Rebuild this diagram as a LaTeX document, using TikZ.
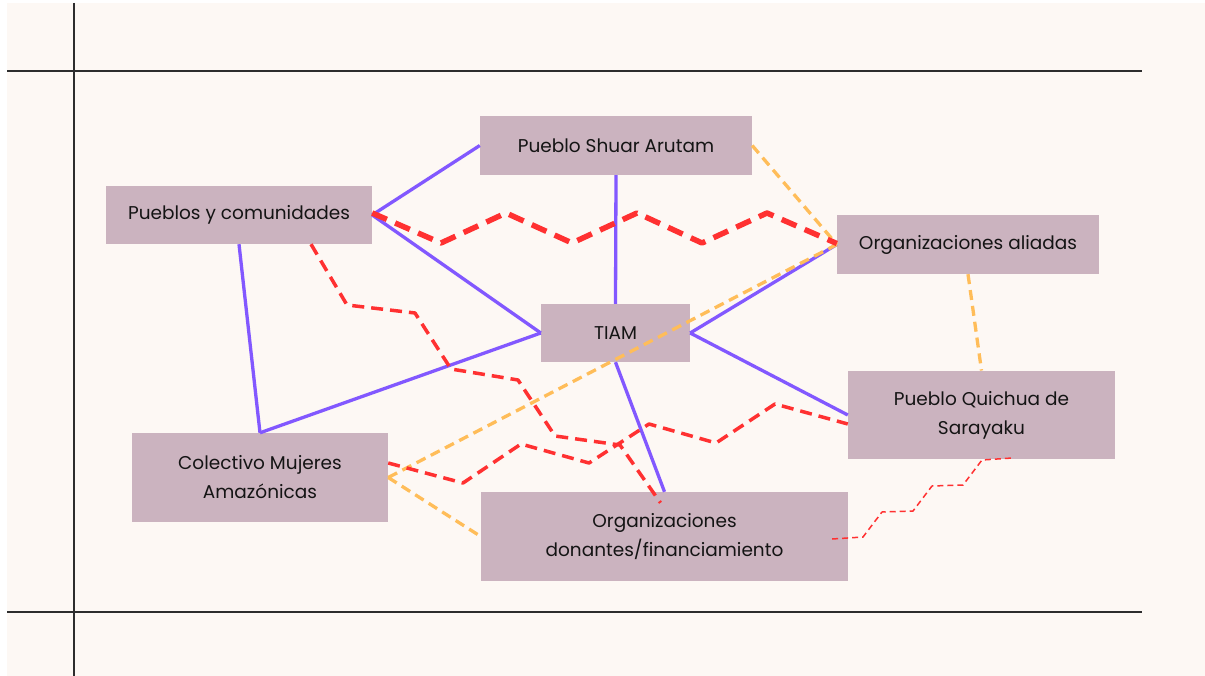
\documentclass[tikz,border=0pt]{standalone}
\usepackage{fontspec}
\setmainfont{Poppins}
\definecolor{bgcream}{RGB}{253,248,244}
\definecolor{boxfill}{RGB}{203,179,191}
\definecolor{purp}{RGB}{130,88,255}
\definecolor{redl}{RGB}{255,49,49}
\definecolor{orng}{RGB}{255,189,89}
\definecolor{gridc}{RGB}{45,45,45}
\definecolor{txt}{RGB}{20,20,20}
\tikzset{
  box/.style={draw=none, fill=boxfill, rectangle, inner sep=0pt, align=center,
    text=txt, font=\fontsize{18.5}{29}\selectfont},
  purpline/.style={draw=purp, line width=3.3pt},
  orgline/.style={draw=orng, line width=3.3pt, dash pattern=on 10pt off 6pt},
  redthick/.style={draw=redl, line width=5.5pt, dash pattern=on 16pt off 9pt, line join=round},
  redmid/.style={draw=redl, line width=3.5pt, dash pattern=on 12pt off 7pt, line join=round},
  redthin/.style={draw=redl, line width=1.5pt, dash pattern=on 6pt off 4pt, line join=round},
  gridline/.style={draw=gridc, line width=1.4pt}
}
\begin{document}
\begin{tikzpicture}[x=1pt,y=-1pt]
\useasboundingbox (0,0) rectangle (1205,676);
\fill[white] (0,0) rectangle (1205,676);
\fill[bgcream] (7,3) rectangle (1205,676);
\draw[gridline] (74,3) -- (74,676);
\draw[gridline] (7,71) -- (1142,71);
\draw[gridline] (7,612) -- (1142,612);

\node[box, minimum width=272pt, minimum height=59pt] (shuar) at (616,145.5) {Pueblo Shuar Arutam};
\node[box, minimum width=266pt, minimum height=58pt] (pyc) at (239,215) {Pueblos y comunidades};
\node[box, minimum width=262pt, minimum height=59pt] (aliadas) at (968,244.5) {Organizaciones aliadas};
\node[box, minimum width=149pt, minimum height=58pt] (tiam) at (615.5,333) {TIAM};
\node[box, minimum width=267pt, minimum height=88.5pt] (sarayaku) at (981.5,415) {Pueblo Quichua de\\Sarayaku};
\node[box, minimum width=256pt, minimum height=89pt] (colectivo) at (260,477.5) {Colectivo Mujeres\\Amazónicas};
\node[box, minimum width=367pt, minimum height=89pt] (donantes) at (664.5,536.5) {Organizaciones\\donantes/financiamiento};

% purple solid connectors
\draw[purpline] (pyc.east) -- (shuar.west);
\draw[purpline] (pyc.east) -- (tiam.west);
\draw[purpline] (shuar.south) -- (tiam.north);
\draw[purpline] (pyc.south) -- (colectivo.north);
\draw[purpline] (colectivo.north) -- (tiam.west);
\draw[purpline] (tiam.east) -- (aliadas.west);
\draw[purpline] (tiam.east) -- (sarayaku.west);
\draw[purpline] (tiam.south) -- (donantes.north);

% orange dashed connectors
\draw[orgline] (shuar.east) -- (aliadas.west);
\draw[orgline] (aliadas.south) -- (sarayaku.north);
\draw[orgline] (colectivo.east) -- (aliadas.west);
\draw[orgline] (colectivo.east) -- (donantes.west);

% red dashed connectors
\draw[redthick] ([yshift=2pt]pyc.east) -- (441,243) -- (506,213) -- (572,243) -- (637,213) -- (702,243) -- (767,213) -- ([yshift=1pt]aliadas.west);
\draw[redmid] ([xshift=72pt]pyc.south) -- (347,305) -- (415,313) -- (451,369) -- (518,380) -- (555,436) -- (620,445) -- ([xshift=-4pt,yshift=-11pt]donantes.north);
\draw[redmid] ([yshift=14.5pt]colectivo.east) -- (463,483) -- (521,444) -- (589,463) -- (649,424) -- (716,443) -- (775,404) -- ([yshift=-9pt]sarayaku.west);
\draw[redthin] ([xshift=-16pt,yshift=-2.5pt]donantes.east) -- (863,537) -- (882,512) -- (913,511) -- (932,486) -- (963,485) -- (982,460) -- ([xshift=31.5pt,yshift=1.5pt]sarayaku.south);
\end{tikzpicture}
\end{document}
